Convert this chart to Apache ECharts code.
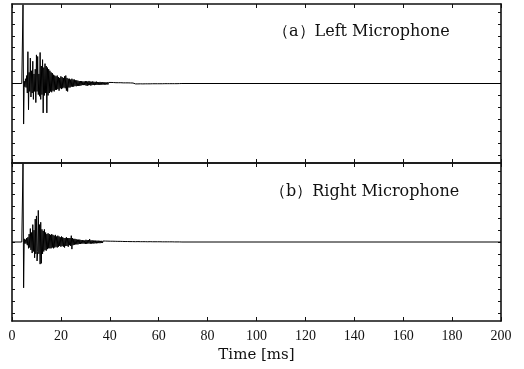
<!DOCTYPE html>
<html>
<head>
<meta charset="utf-8">
<script src="https://cdn.jsdelivr.net/npm/echarts@6/dist/echarts.min.js"></script>
<style>html,body{margin:0;padding:0;background:#fff}#c{width:524px;height:369px}</style>
</head>
<body>
<div id="c"></div>
<script>
// ---- data (normalised amplitude, ±1 = panel half height) ----
const xTicks = [0, 20, 40, 60, 80, 100, 120, 140, 160, 180, 200];
const panelTitles = ['（a）Left Microphone', '（b）Right Microphone'];
const xName = 'Time [ms]';
const yTickValues = [-0.9, -0.75, -0.6, -0.45, -0.3, -0.15, 0, 0.15, 0.3, 0.45, 0.6, 0.75, 0.9];

// early part: samples from 4.0 ms every 0.25 ms
const earlyStart = 4.0, earlyStep = 0.25;
// late part: samples from 30 ms every 0.25 ms
const lateStart = 30.0, lateStep = 0.25;
// tail: samples from 50 ms every 0.5 ms
const tailStart = 50.0, tailStep = 0.5;

const leftEarly = [
  0, 0, 0.99, -0.51, 0.03, -0.04, 0.06, -0.05, 0.10, -0.12,
  0.40, -0.33, 0.14, -0.10, 0.32, -0.17, 0.16, -0.12, 0.28, -0.20,
  0.12, -0.10, 0.18, -0.24, 0.36, -0.10, 0.34, -0.14, 0.12, -0.16,
  0.39, -0.20, 0.22, -0.14, 0.30, -0.37, 0.20, -0.15, 0.25, -0.12,
  0.22, -0.37, 0.20, -0.15, 0.18, -0.12, 0.16, -0.10, 0.14, -0.11,
  0.13, -0.09, 0.11, -0.10, 0.10, -0.08, 0.09, -0.08, 0.10, -0.07,
  0.08, -0.09, 0.07, -0.06, 0.09, -0.07, 0.08, -0.06, 0.07, -0.05,
  0.09, -0.06, 0.10, -0.09, 0.07, -0.10, 0.06, -0.05, 0.06, -0.05,
  0.05, -0.04, 0.06, -0.04, 0.05, -0.04, 0.05, -0.03, 0.04, -0.035,
  0.04, -0.03, 0.035, -0.03, 0.03, -0.03, 0.03, -0.025, 0.03, -0.02,
  0.025, -0.02, 0.025, -0.02
];
const leftLate = [
  0.03, -0.025, 0.028, -0.03, 0.025, -0.022, 0.032, -0.02, 0.024, -0.026,
  0.022, -0.02, 0.026, -0.018, 0.022, -0.021, 0.02, -0.018, 0.024, -0.017,
  0.019, -0.018, 0.018, -0.016, 0.02, -0.015, 0.017, -0.016, 0.016, -0.014,
  0.015, -0.015, 0.016, -0.013, 0.014, -0.012, 0.015, -0.013, 0.013, -0.012,
  0.012, -0.012, 0.013, -0.011, 0.011, -0.012, 0.012, -0.010, 0.011, -0.010,
  0.010, -0.010, 0.011, -0.009, 0.010, -0.009, 0.009, -0.009, 0.010, -0.008,
  0.009, -0.008, 0.008, -0.008, 0.009, -0.007, 0.008, -0.007, 0.007, -0.007,
  0.008, -0.006, 0.007, -0.006, 0.007, -0.006, 0.006, -0.006, 0.006, -0.005
];
const leftTail = [
  0.006, -0.005, 0.005, -0.005, 0.006, -0.004, 0.005, -0.005, 0.004, -0.004,
  0.005, -0.004, 0.004, -0.004, 0.004, -0.003, 0.004, -0.003, 0.003, -0.003,
  0.004, -0.003, 0.003, -0.003, 0.003, -0.002, 0.003, -0.002, 0.002, -0.002,
  0.003, -0.002, 0.002, -0.002, 0.002, -0.002, 0.002, -0.001, 0.001, 0
];
const rightEarly = [
  0, 0, 0.99, -0.58, 0.04, -0.02, 0.03, -0.02, 0.05, -0.04,
  0.06, -0.08, 0.10, -0.07, 0.17, -0.10, 0.12, -0.14, 0.22, -0.12,
  0.15, -0.20, 0.29, -0.15, 0.33, -0.24, -0.12, 0.40, -0.15, 0.22,
  -0.28, 0.25, -0.27, 0.16, -0.15, 0.14, -0.12, 0.16, -0.10, 0.12,
  -0.11, 0.10, -0.09, 0.11, -0.08, 0.10, -0.08, 0.09, -0.08, 0.10,
  -0.07, 0.09, -0.08, 0.08, -0.07, 0.09, -0.06, 0.07, -0.07, 0.08,
  -0.06, 0.07, -0.05, 0.06, -0.06, 0.07, -0.05, 0.06, -0.06, 0.05,
  -0.07, 0.05, -0.05, 0.06, -0.05, 0.05, -0.06, 0.05, -0.04, 0.05,
  -0.05, 0.08, -0.09, 0.05, -0.04, 0.04, -0.035, 0.04, -0.03, 0.035,
  -0.03, 0.03, -0.03, 0.03, -0.025, 0.03, -0.025, 0.025, -0.02, 0.025,
  -0.02, 0.02, -0.02, 0.02
];
const rightLate = [
  -0.025, 0.028, -0.022, 0.024, -0.02, 0.025, -0.018, 0.038, -0.022, 0.02,
  -0.02, 0.022, -0.018, 0.019, -0.02, 0.017, -0.016, 0.018, -0.017, 0.016,
  -0.015, 0.017, -0.014, 0.015, -0.015, 0.014, -0.013, 0.015, -0.013, 0.013,
  -0.012, 0.013, -0.012, 0.012, -0.011, 0.012, -0.011, 0.011, -0.010, 0.011,
  -0.010, 0.010, -0.010, 0.010, -0.009, 0.010, -0.009, 0.009, -0.009, 0.009,
  -0.008, 0.009, -0.008, 0.008, -0.008, 0.008, -0.007, 0.008, -0.007, 0.007,
  -0.007, 0.007, -0.006, 0.007, -0.006, 0.006, -0.006, 0.006, -0.006, 0.006,
  -0.005, 0.006, -0.005, 0.005, -0.005, 0.005, -0.005, 0.005, -0.004, 0.005
];
const rightTail = [
  -0.005, 0.004, -0.004, 0.005, -0.004, 0.004, -0.004, 0.004, -0.003, 0.004,
  -0.003, 0.003, -0.003, 0.004, -0.003, 0.003, -0.003, 0.003, -0.002, 0.003,
  -0.002, 0.003, -0.002, 0.002, -0.002, 0.002, -0.002, 0.002, -0.002, 0.002,
  -0.001, 0.002, -0.001, 0.001, -0.001, 0.001, -0.001, 0.001, -0.001, 0
];

function buildSeries(early, late, tail) {
  const pts = [[0, 0]];
  early.forEach((v, i) => pts.push([earlyStart + i * earlyStep, v]));
  late.forEach((v, i) => pts.push([lateStart + i * lateStep, v]));
  tail.forEach((v, i) => pts.push([tailStart + i * tailStep, v]));
  pts.push([200, 0]);
  return pts;
}

const FONT = 'Liberation Serif';
const TFONT = 'DejaVu Serif';
const INK = '#111';
const G = [{ top: 4, height: 159 }, { top: 163, height: 158 }];

function xAx(grid, pos, labels) {
  return {
    type: 'value', gridIndex: grid, position: pos, min: 0, max: 200, interval: 20,
    axisLine: { show: true, onZero: false, lineStyle: { color: INK, width: 1.6 } },
    axisTick: { show: true, inside: true, length: 4, lineStyle: { color: INK, width: 1 } },
    axisLabel: { show: labels, color: INK, fontFamily: FONT, fontSize: 14, margin: 8 },
    splitLine: { show: false },
    name: labels ? xName : '', nameLocation: 'middle', nameGap: 27,
    nameTextStyle: { color: INK, fontFamily: TFONT, fontSize: 15 }
  };
}
function yAx(grid, pos) {
  return {
    type: 'value', gridIndex: grid, position: pos, min: -1, max: 1,
    axisLine: { show: true, onZero: false, lineStyle: { color: INK, width: 1.6 } },
    axisTick: { show: true, inside: true, length: 3, customValues: yTickValues, lineStyle: { color: INK, width: 1 } },
    axisLabel: { show: false },
    splitLine: { show: false }
  };
}

const chart = echarts.init(document.getElementById('c'), null, { renderer: 'canvas' });
chart.setOption({
  animation: false,
  backgroundColor: '#fff',
  title: [
    { text: panelTitles[0], left: 268, top: 19, textStyle: { fontFamily: TFONT, fontSize: 16, fontWeight: 'normal', color: INK } },
    { text: panelTitles[1], left: 265, top: 179, textStyle: { fontFamily: TFONT, fontSize: 16, fontWeight: 'normal', color: INK } }
  ],
  grid: [
    { left: 12, width: 489, top: G[0].top, height: G[0].height },
    { left: 12, width: 489, top: G[1].top, height: G[1].height }
  ],
  xAxis: [xAx(0, 'bottom', false), xAx(0, 'top', false), xAx(1, 'bottom', true), xAx(1, 'top', false)],
  yAxis: [yAx(0, 'left'), yAx(0, 'right'), yAx(1, 'left'), yAx(1, 'right')],
  series: [
    { type: 'line', xAxisIndex: 0, yAxisIndex: 0, data: buildSeries(leftEarly, leftLate, leftTail),
      showSymbol: false, symbol: 'none', sampling: null, clip: true,
      lineStyle: { color: '#000', width: 1 } },
    { type: 'line', xAxisIndex: 2, yAxisIndex: 2, data: buildSeries(rightEarly, rightLate, rightTail),
      showSymbol: false, symbol: 'none', sampling: null, clip: true,
      lineStyle: { color: '#000', width: 1 } }
  ]
});
</script>
</body>
</html>
